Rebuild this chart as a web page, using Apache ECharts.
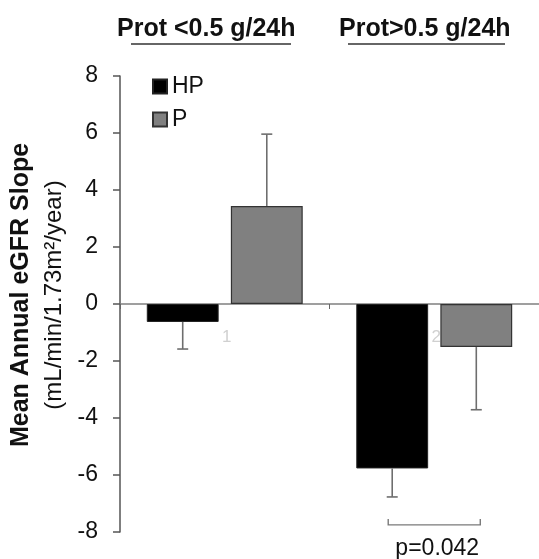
<!DOCTYPE html>
<html>
<head>
<meta charset="utf-8">
<script src="https://cdn.jsdelivr.net/npm/echarts@6/dist/echarts.min.js"></script>
<style>
  html, body { margin: 0; padding: 0; background: #fff; }
  #chart { width: 539px; height: 559px; }
</style>
</head>
<body>
<div id="chart"></div>
<script>
// chart data
const categories = ['1', '2'];
const groupTitles = ['Prot <0.5 g/24h', 'Prot>0.5 g/24h'];
const hpValues = [-0.63, -5.77];
const hpErrors = [0.95, 1.0];
const pValues = [3.44, -1.51];
const pErrors = [2.52, 2.2];
const yTicks = { min: -8, max: 8, step: 2 };
const sigBracket = [[1, -7.75, 'p=0.042']];

const FONT = '"Liberation Sans", Arial, sans-serif';
const BAR_W = 0.343;   // bar width, fraction of category band
const BAR_GAP = 0.17;  // gap, fraction of bar width

// offset of a bar's center from the category center
function barOffset(band, which) {
    const bw = band * BAR_W;
    const d = (bw + bw * BAR_GAP) / 2;
    return which === 0 ? -d : d;
}

function errorSeries(values, errors, which) {
    return {
        type: 'custom',
        z: 3,
        silent: true,
        data: values.map((v, i) => [i, v, errors[i]]),
        renderItem: function (params, api) {
            const i = api.value(0), v = api.value(1), e = api.value(2);
            const end = v >= 0 ? v + e : v - e;
            const band = api.size([1, 0])[0];
            const c = api.coord([i, v]);
            const t = api.coord([i, end]);
            const x = c[0] + barOffset(band, which);
            const style = { stroke: '#6e6e6e', lineWidth: 1.6 };
            return {
                type: 'group',
                children: [
                    { type: 'line', shape: { x1: x, y1: c[1], x2: x, y2: t[1] }, style: style },
                    { type: 'line', shape: { x1: x - 5.5, y1: t[1], x2: x + 5.5, y2: t[1] }, style: style }
                ]
            };
        }
    };
}

const chart = echarts.init(document.getElementById('chart'));

chart.setOption({
    animation: false,
    backgroundColor: '#fff',
    textStyle: { fontFamily: FONT },
    grid: { left: 120, right: 0, top: 76, bottom: 27, containLabel: false, outerBoundsMode: 'none' },
    legend: {
        orient: 'vertical',
        left: 147,
        top: 70,
        itemWidth: 14,
        itemHeight: 14,
        itemGap: 10,
        icon: 'rect',
        textStyle: { fontSize: 23, color: '#111', fontFamily: FONT },
        data: ['HP', 'P']
    },
    xAxis: {
        type: 'category',
        data: categories,
        axisLine: { onZero: true, lineStyle: { color: '#808080', width: 1.5 } },
        axisTick: { show: true, length: 5, lineStyle: { color: '#666' } },
        axisLabel: { show: false },
        splitLine: { show: false }
    },
    yAxis: {
        type: 'value',
        min: yTicks.min,
        max: yTicks.max,
        interval: yTicks.step,
        axisLine: { show: true, lineStyle: { color: '#555', width: 1.5 } },
        axisTick: { show: true, length: 7, lineStyle: { color: '#555', width: 1.5 } },
        axisLabel: { fontSize: 23, color: '#111', margin: 22 },
        splitLine: { show: false },
        nameLocation: 'middle',
        nameRotate: 90,
        nameGap: 48,
        name: '{a|Mean Annual eGFR Slope}\n{b|(mL/min/1.73m²/year)}',
        nameTextStyle: {
            padding: [0, 0, 0, 18],
            rich: {
                a: { fontSize: 25, fontWeight: 'bold', color: '#111', fontFamily: FONT, lineHeight: 34 },
                b: { fontSize: 24, color: '#111', fontFamily: FONT, lineHeight: 34 }
            }
        }
    },
    series: [
        {
            // faint category labels sitting on the zero line, under the bars
            type: 'custom',
            z: 1,
            silent: true,
            data: categories.map((c, i) => [i, 0]),
            renderItem: function (params, api) {
                const p = api.coord([api.value(0), 0]);
                return {
                    type: 'text',
                    style: {
                        x: p[0] + 2, y: p[1] + 33, text: categories[params.dataIndex],
                        fill: '#d0d0d0', font: '17px ' + FONT,
                        textAlign: 'center', textVerticalAlign: 'middle'
                    }
                };
            }
        },
        {
            name: 'HP',
            type: 'bar',
            data: hpValues,
            barWidth: (BAR_W * 100) + '%',
            barGap: (BAR_GAP * 100) + '%',
            itemStyle: { color: '#000', borderColor: '#222', borderWidth: 1 }
        },
        {
            name: 'P',
            type: 'bar',
            data: pValues,
            barWidth: (BAR_W * 100) + '%',
            itemStyle: { color: '#808080', borderColor: '#333', borderWidth: 1.2 }
        },
        errorSeries(hpValues, hpErrors, 0),
        errorSeries(pValues, pErrors, 1),
        {
            type: 'custom',
            z: 3,
            silent: true,
            data: sigBracket,
            renderItem: function (params, api) {
                const i = api.value(0), v = api.value(1);
                const band = api.size([1, 0])[0];
                const c = api.coord([i, v]);
                const x1 = c[0] + barOffset(band, 0) - 4;
                const x2 = c[0] + barOffset(band, 1) + 4;
                const y = c[1];
                const style = { stroke: '#7a7a7a', lineWidth: 1.4, fill: null };
                return {
                    type: 'group',
                    children: [
                        { type: 'polyline', shape: { points: [[x1, y - 6], [x1, y], [x2, y], [x2, y - 6]] }, style: style },
                        {
                            type: 'text',
                            style: {
                                x: (x1 + x2) / 2 + 3, y: y + 24,
                                text: sigBracket[params.dataIndex][2],
                                fill: '#111', font: '23px ' + FONT,
                                textAlign: 'center', textVerticalAlign: 'middle'
                            }
                        }
                    ]
                };
            }
        }
    ],
    graphic: [
        {
            type: 'text', left: 117, top: 17,
            style: { text: groupTitles[0], fill: '#111', font: 'bold 25px ' + FONT }
        },
        {
            type: 'line', shape: { x1: 131, y1: 44, x2: 291, y2: 44 },
            style: { stroke: '#333', lineWidth: 1.5 }
        },
        {
            type: 'text', left: 339, top: 17,
            style: { text: groupTitles[1], fill: '#111', font: 'bold 25px ' + FONT }
        },
        {
            type: 'line', shape: { x1: 348, y1: 44, x2: 505, y2: 44 },
            style: { stroke: '#333', lineWidth: 1.5 }
        }
    ]
});
</script>
</body>
</html>
